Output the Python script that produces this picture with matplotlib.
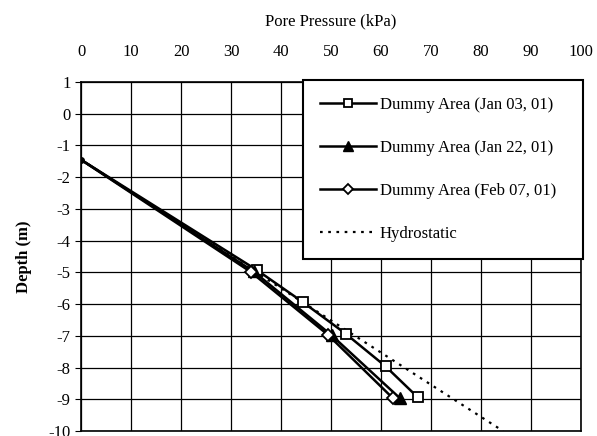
import matplotlib
matplotlib.use("Agg")
import matplotlib.pyplot as plt

plt.rcParams['font.family'] = ['Liberation Serif', 'DejaVu Serif']
plt.rcParams['axes.unicode_minus'] = False

jan03_p = [0, 35.2, 44.3, 52.9, 60.9, 67.3]
jan03_d = [-1.45, -4.93, -5.93, -6.93, -7.96, -8.93]
jan22_p = [0, 34.5, 50.1, 63.8]
jan22_d = [-1.45, -4.97, -6.98, -8.97]
feb07_p = [0, 33.9, 49.4, 62.4]
feb07_d = [-1.45, -4.98, -6.97, -8.97]
hydro_p = [0, 84.4]
hydro_d = [-1.45, -10]

xticks = list(range(0, 101, 10))
yticks = list(range(1, -11, -1))

fig = plt.figure(figsize=(5.97, 4.36), dpi=100)
ax = fig.add_axes([81/597, 1-431/436, 500/597, (431-82)/436])

ax.plot(hydro_p, hydro_d, color='black', linestyle=(0, (1.2, 2.5)), lw=1.6, label='Hydrostatic', zorder=2)
ax.plot(jan03_p, jan03_d, color='black', lw=1.8, marker='s', ms=7.5, mfc='white', mec='black', mew=1.3,
        markevery=slice(1, None), label='Dummy Area (Jan 03, 01)', zorder=3)
ax.plot(jan22_p, jan22_d, color='black', lw=1.8, marker='^', ms=8, mfc='black', mec='black',
        markevery=slice(1, None), label='Dummy Area (Jan 22, 01)', zorder=3)
ax.plot(feb07_p, feb07_d, color='black', lw=1.8, marker='D', ms=6, mfc='white', mec='black', mew=1.3,
        markevery=slice(1, None), label='Dummy Area (Feb 07, 01)', zorder=4)
ax.plot([feb07_p[0]], [feb07_d[0]], 'o', color='black', ms=4, zorder=5)

ax.set_xlim(0, 100)
ax.set_ylim(-10, 1)
ax.set_xticks(xticks)
ax.set_yticks(yticks)
ax.xaxis.tick_top()
ax.xaxis.set_label_position('top')
ax.tick_params(axis='x', top=False, labelsize=12, pad=12)
ax.tick_params(axis='y', direction='out', length=4, labelsize=12, color='black')
ax.grid(True, color='black', lw=0.9)
for s in ax.spines.values():
    s.set_color('black')
    s.set_linewidth(1.2)
ax.set_xlabel('Pore Pressure (kPa)', fontsize=12, labelpad=14)
ax.set_ylabel('Depth (m)', fontsize=12, fontweight='bold', labelpad=12)

handles, labels = ax.get_legend_handles_labels()
order = [1, 2, 3, 0]
leg = ax.legend([handles[i] for i in order], [labels[i] for i in order],
                loc='upper left', bbox_to_anchor=(0.444, 0.0, 0.56, 1.0057), mode='expand',
                fontsize=12, frameon=True, fancybox=False, edgecolor='black', framealpha=1,
                borderpad=1.0, labelspacing=1.63, handlelength=3.4, handletextpad=0.2,
                borderaxespad=0, markerscale=0.85)
leg.get_frame().set_linewidth(1.5)

fig.savefig('out.png', dpi=100)
